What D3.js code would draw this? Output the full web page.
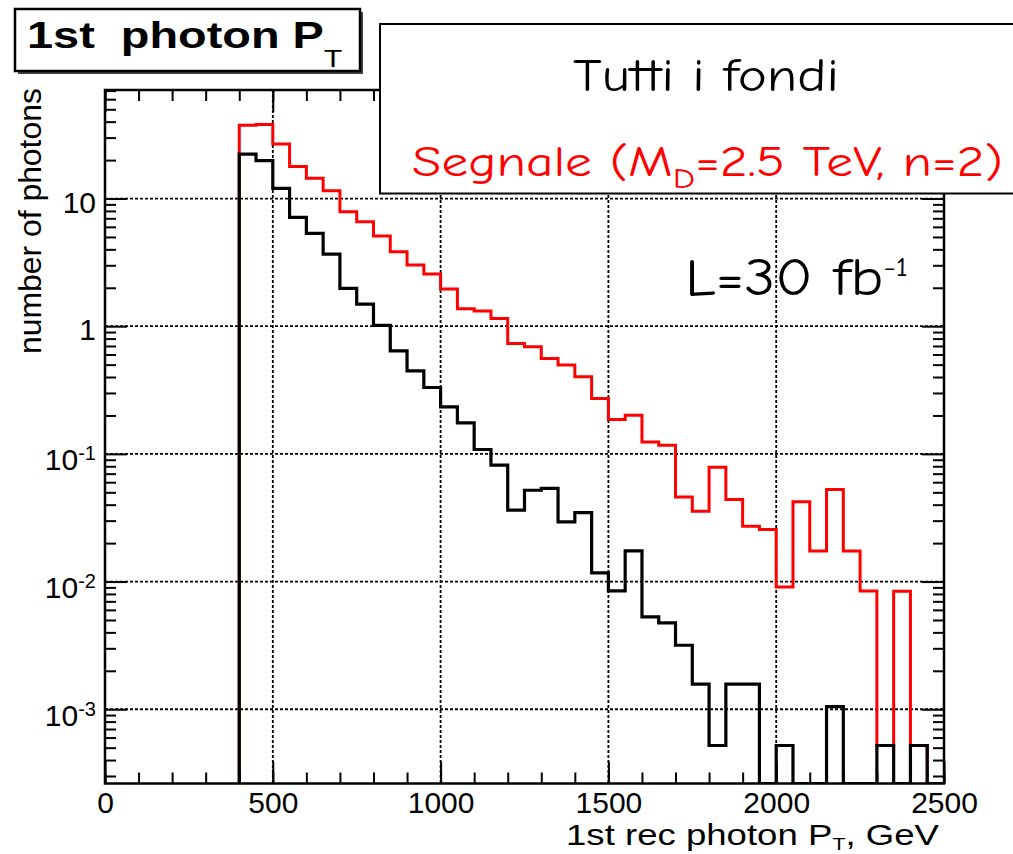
<!DOCTYPE html>
<html>
<head>
<meta charset="utf-8">
<script src="https://cdn.jsdelivr.net/npm/d3@7"></script>
<style>
  html, body { margin: 0; padding: 0; background: #fff; }
  svg { display: block; }
  .root { font-family: "Liberation Sans", Arial, Helvetica, sans-serif; }
  .comic { font-family: "Comic Sans MS", "Comic Neue", "Noto Sans", sans-serif; }
</style>
</head>
<body>
<svg id="chart" width="1013" height="854"></svg>
<script>
// ---- histogram binning (GeV) ----
const binStart = 400;
const binWidth = 50;

// All backgrounds, events per 50 GeV bin from 400 to 2500 GeV
const backgroundCounts = [
  22.3, 19.8, 12.0, 7.12, 5.34, 3.67, 1.98, 1.49, 1.015, 0.641,
  0.447, 0.331, 0.2335, 0.175, 0.1082, 0.0815, 0.0362, 0.0519, 0.0536, 0.0293,
  0.0347, 0.01168, 0.00844, 0.01738, 0.00528, 0.00474, 0.00317, 0.00157, 0.00052, 0.00157,
  0.00157, 0, 0.00052, 0, 0, 0.00105, 0, 0, 0.00052, 0,
  0.00052, 0
];

// Signal (M_D = 2.5 TeV, n = 2), same binning
const signalCounts = [
  37.5, 38.0, 26.7, 17.8, 14.4, 11.5, 7.88, 6.58, 5.08, 3.83,
  3.01, 2.56, 1.954, 1.369, 1.313, 1.151, 0.733, 0.690, 0.559, 0.496,
  0.401, 0.272, 0.186, 0.201, 0.124, 0.117, 0.0460, 0.0356, 0.0787, 0.0439,
  0.0271, 0.0256, 0.00907, 0.0421, 0.01738, 0.0526, 0.01738, 0.00844, 0.00052, 0.0084,
  0.00052, 0
];

// axes
const xDomain = [0, 2500];
const yDomain = [2.62e-4, 70.8];
const xMajorTicks = [0, 500, 1000, 1500, 2000, 2500];
const xMinorStep = 100;
const xGridTicks = [500, 1000, 1500, 2000];
const yMajorTicks = [1e-3, 1e-2, 1e-1, 1, 10];
const yTickLabels = [["10", "-3"], ["10", "-2"], ["10", "-1"], ["1", ""], ["10", ""]];

// texts
const titleMain = "1st  photon P";
const titleSub = "T";
const xTitle = ["1st rec photon P", "T", ", GeV"];
const yTitle = "number of photons";
const legendBackground = "Tutti i fondi";
const legendSignal = ["Segnale (M", "D", "=2.5 TeV, n=2)"];
const lumiText = ["L=30 fb", "-1"];

// ---- layout ----
const frame = { left: 105, right: 944, top: 90, bottom: 783.5 };
const svg = d3.select("#chart");

const x = d3.scaleLinear().domain(xDomain).range([frame.left, frame.right]);
const y = d3.scaleLog().domain(yDomain).range([frame.bottom, frame.top]);

// stretch a text element horizontally so its box spans [left, right]
function fitBox(sel, left, right) {
  const bb = sel.node().getBBox();
  const sx = (right - left) / bb.width;
  const tx = left - sx * bb.x;
  sel.attr("transform", `translate(${tx},0) scale(${sx},1)`);
}

svg.append("defs").append("clipPath").attr("id", "plotClip")
  .append("rect")
  .attr("x", frame.left).attr("y", frame.top)
  .attr("width", frame.right - frame.left)
  .attr("height", frame.bottom - frame.top);

// ---- grid (dotted, at major ticks) ----
const grid = svg.append("g").attr("clip-path", "url(#plotClip)")
  .attr("stroke", "#000").attr("stroke-width", 1.8).attr("stroke-dasharray", "3,2");
grid.selectAll("line.vx").data(xGridTicks).join("line")
  .attr("x1", d => x(d)).attr("x2", d => x(d))
  .attr("y1", frame.top).attr("y2", frame.bottom);
grid.selectAll("line.hy").data(yMajorTicks).join("line")
  .attr("y1", d => y(d)).attr("y2", d => y(d))
  .attr("x1", frame.left).attr("x2", frame.right);

// ---- histograms ----
const floorVal = yDomain[0];
function stepPoints(counts) {
  const n = counts.length;
  const pts = [[binStart, floorVal]];
  counts.forEach((c, i) => pts.push([binStart + i * binWidth, c]));
  pts.push([binStart + n * binWidth, counts[n - 1]]);
  pts.push([binStart + n * binWidth, floorVal]);
  return pts;
}
const stepLine = d3.line()
  .x(d => x(d[0]))
  .y(d => y(Math.max(d[1], floorVal)))
  .curve(d3.curveStepAfter);

const hist = svg.append("g").attr("clip-path", "url(#plotClip)").attr("fill", "none")
  .attr("stroke-linejoin", "miter").attr("stroke-linecap", "square");
hist.append("path").attr("d", stepLine(stepPoints(signalCounts)))
  .attr("stroke", "#ff0000").attr("stroke-width", 3);
hist.append("path").attr("d", stepLine(stepPoints(backgroundCounts)))
  .attr("stroke", "#000").attr("stroke-width", 3.2);

// ---- axes ----
const xMinorTicks = d3.range(xDomain[0], xDomain[1] + 1, xMinorStep);
const yMinorTicks = y.ticks().filter(v => !yMajorTicks.some(m => Math.abs(m - v) / m < 1e-6));

function styleAxis(g) {
  g.select(".domain").remove();
  g.selectAll(".tick line").attr("stroke", "#000").attr("stroke-width", 2);
}

// bottom
svg.append("g").attr("transform", `translate(0,${frame.bottom})`)
  .call(d3.axisBottom(x).tickValues(xMinorTicks).tickSize(-11).tickFormat(""))
  .call(styleAxis);
const xAxisG = svg.append("g").attr("class", "root")
  .attr("transform", `translate(0,${frame.bottom})`)
  .call(d3.axisBottom(x).tickValues(xMajorTicks).tickSize(-22).tickSizeOuter(0)
        .tickPadding(8).tickFormat(d3.format("d")))
  .call(styleAxis);
xAxisG.selectAll(".tick text").attr("font-size", 30).attr("fill", "#000")
  .attr("font-family", "Liberation Sans, Arial, sans-serif");

// top (ticks only)
svg.append("g").attr("transform", `translate(0,${frame.top})`)
  .call(d3.axisTop(x).tickValues(xMinorTicks).tickSize(-11).tickFormat(""))
  .call(styleAxis);
svg.append("g").attr("transform", `translate(0,${frame.top})`)
  .call(d3.axisTop(x).tickValues(xMajorTicks).tickSize(-22).tickFormat(""))
  .call(styleAxis);

// left
svg.append("g").attr("transform", `translate(${frame.left},0)`)
  .call(d3.axisLeft(y).tickValues(yMinorTicks).tickSize(-11).tickFormat(""))
  .call(styleAxis);
const yAxisG = svg.append("g").attr("transform", `translate(${frame.left},0)`)
  .call(d3.axisLeft(y).tickValues(yMajorTicks).tickSize(-22).tickPadding(9))
  .call(styleAxis);
yAxisG.selectAll(".tick text").each(function (d, i) {
  const [base, sup] = yTickLabels[i];
  const t = d3.select(this)
    .attr("font-size", 30).attr("fill", "#000")
    .attr("font-family", "Liberation Sans, Arial, sans-serif")
    .attr("dy", sup ? "0.53em" : "0.45em")
    .text(null);
  t.append("tspan").text(base);
  if (sup) t.append("tspan").attr("dy", "-0.5em").attr("font-size", 20).text(sup);
});

// right (ticks only)
svg.append("g").attr("transform", `translate(${frame.right},0)`)
  .call(d3.axisRight(y).tickValues(yMinorTicks).tickSize(-11).tickFormat(""))
  .call(styleAxis);
svg.append("g").attr("transform", `translate(${frame.right},0)`)
  .call(d3.axisRight(y).tickValues(yMajorTicks).tickSize(-22).tickFormat(""))
  .call(styleAxis);

// frame
svg.append("rect")
  .attr("x", frame.left).attr("y", frame.top)
  .attr("width", frame.right - frame.left).attr("height", frame.bottom - frame.top)
  .attr("fill", "none").attr("stroke", "#000").attr("stroke-width", 2.5);

// ---- axis titles ----
const xt = svg.append("text").attr("class", "root")
  .attr("x", 0).attr("y", 845).attr("font-size", 29).attr("fill", "#000");
xt.append("tspan").text(xTitle[0]);
xt.append("tspan").attr("dy", 5).attr("font-size", 17).text(xTitle[1]);
xt.append("tspan").attr("dy", -5).text(xTitle[2]);
fitBox(xt, 566, 940);

const ytG = svg.append("g").attr("transform", "translate(41,354) rotate(-90)");
const yt = ytG.append("text").attr("class", "root")
  .attr("x", 0).attr("y", 0).attr("font-size", 31).attr("fill", "#000").text(yTitle);
fitBox(yt, 0, 266);

// ---- title box ----
svg.append("rect").attr("x", 18).attr("y", 12).attr("width", 345).attr("height", 62)
  .attr("fill", "#444");
svg.append("rect").attr("x", 15).attr("y", 9).attr("width", 345).attr("height", 62)
  .attr("fill", "#fff").attr("stroke", "#000").attr("stroke-width", 2.5);
const tt = svg.append("text").attr("class", "root")
  .attr("x", 0).attr("y", 48).attr("font-size", 37).attr("font-weight", "bold").attr("fill", "#000");
tt.append("tspan").attr("xml:space", "preserve").text(titleMain);
tt.append("tspan").attr("dy", 19).attr("font-size", 24).attr("font-weight", "normal").text(titleSub);
fitBox(tt, 27, 343);

// ---- legend box ----
svg.append("rect").attr("x", 380).attr("y", 24).attr("width", 660).attr("height", 169.5)
  .attr("fill", "#fff").attr("stroke", "#000").attr("stroke-width", 2);
const lb = svg.append("text").attr("class", "comic")
  .attr("x", 0).attr("y", 91).attr("font-size", 46).attr("fill", "#000").text(legendBackground);
fitBox(lb, 573, 839);
const ls = svg.append("text").attr("class", "comic")
  .attr("x", 0).attr("y", 176).attr("font-size", 42).attr("fill", "#ff0000");
ls.append("tspan").text(legendSignal[0]);
ls.append("tspan").attr("dy", 12).attr("font-size", 28).text(legendSignal[1]);
ls.append("tspan").attr("dy", -12).text(legendSignal[2]);
fitBox(ls, 412, 1003);

// ---- luminosity ----
const lt = svg.append("text").attr("class", "comic")
  .attr("x", 0).attr("y", 295).attr("font-size", 52).attr("fill", "#000");
lt.append("tspan").text(lumiText[0]);
lt.append("tspan").attr("dy", -19).attr("font-size", 26).text(lumiText[1]);
fitBox(lt, 685, 908);
</script>
</body>
</html>
